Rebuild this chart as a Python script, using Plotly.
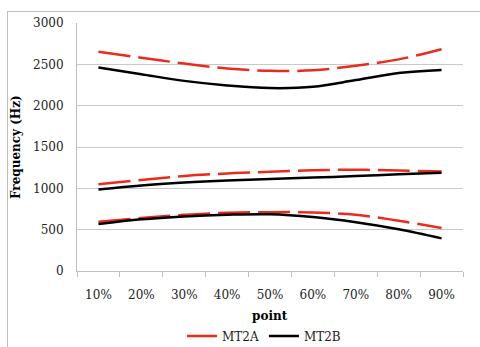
import plotly.graph_objects as go

categories = ["10%", "20%", "30%", "40%", "50%", "60%", "70%", "80%", "90%"]

mt2a_f1 = [595, 640, 680, 705, 712, 708, 680, 608, 520]
mt2a_f2 = [1050, 1100, 1150, 1180, 1200, 1218, 1225, 1215, 1205]
mt2a_f3 = [2652, 2580, 2510, 2450, 2422, 2428, 2482, 2560, 2682]

mt2b_f1 = [568, 625, 660, 680, 686, 652, 590, 505, 395]
mt2b_f2 = [985, 1035, 1070, 1095, 1112, 1130, 1148, 1170, 1188]
mt2b_f3 = [2462, 2380, 2300, 2245, 2213, 2228, 2310, 2395, 2432]

series_names = ["MT2A", "MT2B"]
RED = "#EC2A1C"
BLACK = "#000000"
FONT = "DejaVu Serif"

fig = go.Figure()
for i, ys in enumerate([mt2a_f3, mt2a_f2, mt2a_f1]):
    fig.add_trace(go.Scatter(
        x=categories, y=ys, mode="lines", name=series_names[0],
        legendgroup="a", showlegend=(i == 0),
        line=dict(color=RED, width=2.5, dash="32px,8px", shape="spline"),
    ))
for i, ys in enumerate([mt2b_f3, mt2b_f2, mt2b_f1]):
    fig.add_trace(go.Scatter(
        x=categories, y=ys, mode="lines", name=series_names[1],
        legendgroup="b", showlegend=(i == 0),
        line=dict(color=BLACK, width=2.5, shape="spline"),
    ))

W, H = 480, 347
L, R, T, B = 77, 17, 23, 76
pw, ph = W - L - R, H - T - B

def px2x(p):
    return (p - L) / pw

def py2y(p):
    return (H - B - p) / ph

fig.update_layout(
    width=W, height=H,
    margin=dict(l=L, r=R, t=T, b=B, autoexpand=False),
    paper_bgcolor="white", plot_bgcolor="white",
    font=dict(family=FONT, size=12, color="#222222"),
    showlegend=True,
    legend=dict(orientation="h", x=px2x(182), xanchor="left", y=py2y(336), yanchor="middle",
                font=dict(family=FONT, size=12, color="#222222"),
                bgcolor="rgba(0,0,0,0)", itemwidth=30, tracegroupgap=0),
    xaxis=dict(
        type="category", range=[-0.5, 8.5], automargin=False,
        showgrid=False, showline=True, linecolor="#BFBFBF", linewidth=1,
        ticks="outside", ticklen=5, tickcolor="#BFBFBF", tickson="boundaries",
        tickfont=dict(family=FONT, size=12, color="#222222"),
        ticklabelstandoff=13,
        fixedrange=True,
    ),
    yaxis=dict(
        range=[0, 3000], tickvals=[0, 500, 1000, 1500, 2000, 2500, 3000],
        automargin=False,
        showgrid=True, gridcolor="#C8C8C8", gridwidth=1,
        showline=True, linecolor="#BFBFBF", linewidth=1,
        ticks="", tickfont=dict(family=FONT, size=12, color="#222222"),
        ticklabelstandoff=10, zeroline=False,
        fixedrange=True,
    ),
    annotations=[
        dict(text=" ", xref="paper", yref="paper",
             x=px2x(7), y=py2y(11), xanchor="left", yanchor="top",
             width=490, height=350, showarrow=False,
             bordercolor="#BFBFBF", borderwidth=1, borderpad=0),
        dict(text="<b>Frequency (Hz)</b>", xref="paper", yref="paper",
             x=px2x(16), y=0.5, textangle=-90, showarrow=False,
             xanchor="center", yanchor="middle",
             font=dict(family=FONT, size=12, color="#000000")),
        dict(text="<b>point</b>", xref="paper", yref="paper",
             x=0.5, y=py2y(316), showarrow=False,
             xanchor="center", yanchor="middle",
             font=dict(family=FONT, size=12, color="#000000")),
    ],
)

fig.write_html("out.html", config={"displayModeBar": False},
               post_script="document.body.style.margin='0';document.body.style.padding='0';")
